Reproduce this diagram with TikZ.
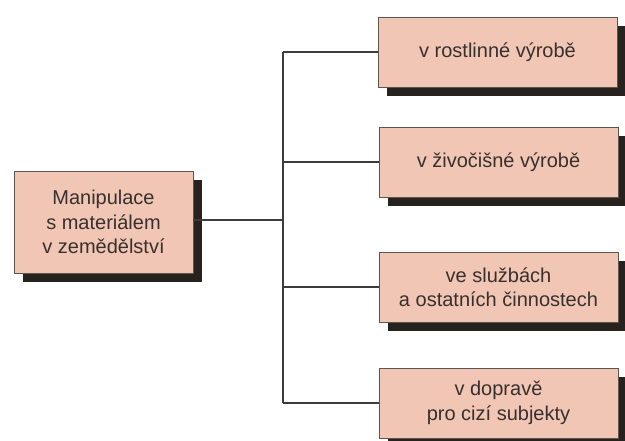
\documentclass[tikz,border=0pt]{standalone}
\usepackage{fontspec}
\setmainfont{Liberation Sans}
\usetikzlibrary{shadows}
\definecolor{boxfill}{RGB}{242,198,180}
\definecolor{boxline}{RGB}{95,85,80}
\definecolor{shadowc}{RGB}{40,34,30}
\definecolor{txt}{RGB}{55,48,46}
\definecolor{linec}{RGB}{60,60,60}
\begin{document}
\begin{tikzpicture}[x=1pt,y=-1pt,
  boxstyle/.style={draw=boxline, line width=0.9pt, fill=boxfill, text=txt,
    font=\fontsize{20}{24.5}\selectfont, align=center, inner sep=0pt,
    drop shadow={shadow xshift=9pt, shadow yshift=-9pt, fill=shadowc, opacity=1}},
  conn/.style={draw=linec, line width=1.3pt}]
\useasboundingbox (0,0) rectangle (625,441);
\clip (0,0) rectangle (625,441);
\fill[white] (0,0) rectangle (625,441);
\node[boxstyle, minimum width=179pt, minimum height=102pt] (main) at (103.5,222) {Manipulace\\s materiálem\\v zemědělství};
\node[boxstyle, minimum width=239pt, minimum height=70pt] (b1) at (497.5,52) {v rostlinné výrobě};
\node[boxstyle, minimum width=239pt, minimum height=70pt] (b2) at (498.5,162) {v živočišné výrobě};
\node[boxstyle, minimum width=239pt, minimum height=70pt] (b3) at (498.5,287) {ve službách\\a ostatních činnostech};
\node[boxstyle, minimum width=239pt, minimum height=70pt] (b4) at (498.5,403) {v dopravě\\pro cizí subjekty};
\coordinate (tr) at (283,220);
\draw[conn] (main.east |- tr) -- (tr);
\draw[conn] (tr |- b1.west) -- (tr |- b4.west);
\foreach \b in {b1,b2,b3,b4} \draw[conn] (tr |- \b.west) -- (\b.west);
\end{tikzpicture}
\end{document}
